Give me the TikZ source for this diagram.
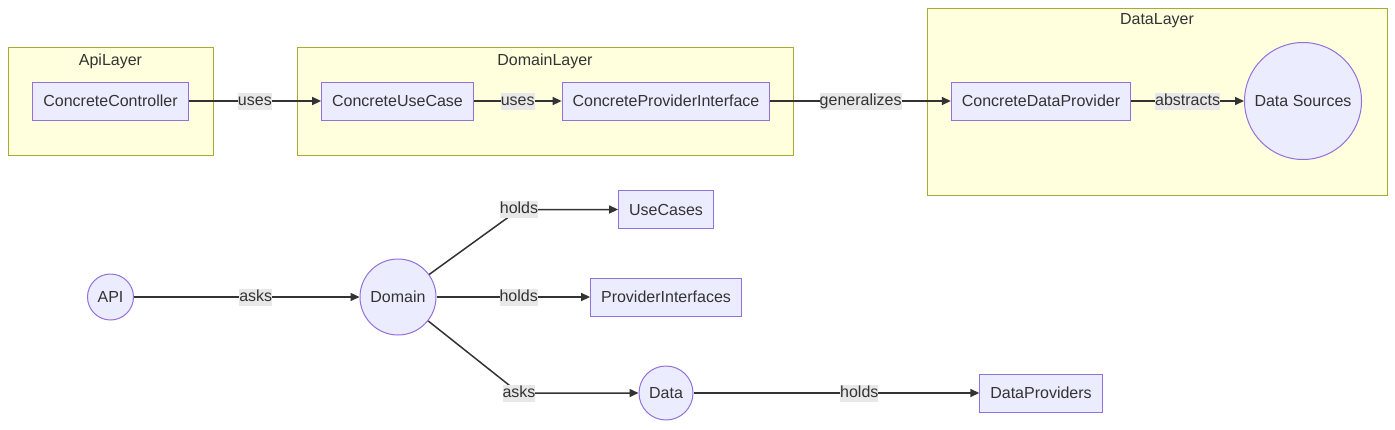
\documentclass[tikz,border=0pt]{standalone}
\usepackage{fontspec}
\setmainfont{Liberation Sans}
\usetikzlibrary{arrows.meta}
\definecolor{nodefill}{HTML}{ECECFF}
\definecolor{nodeline}{HTML}{9370DB}
\definecolor{layerfill}{HTML}{FFFFDE}
\definecolor{layerline}{HTML}{AAAA33}
\definecolor{inkgray}{HTML}{333333}
\definecolor{labelfill}{HTML}{E8E8E8}
\tikzset{
  every node/.style={font=\fontsize{16}{19}\selectfont, text=inkgray},
  layer/.style={draw=layerline, fill=layerfill, line width=1pt, inner sep=0pt},
  box/.style={draw=nodeline, fill=nodefill, line width=1pt, inner xsep=10.5pt, minimum height=38pt},
  round/.style={circle, draw=nodeline, fill=nodefill, line width=1pt, inner sep=0pt},
  edge/.style={draw=inkgray, line width=1.5pt, -{Triangle[length=9pt,width=8pt]}},
  lbl/.style={fill=labelfill, inner xsep=0pt, inner ysep=0.5pt, text height=12pt, text depth=4pt}
}
\begin{document}
\begin{tikzpicture}[x=1pt,y=-1pt]
    \useasboundingbox (0,0) rectangle (1395,429);
    % layers
    \node[layer, minimum width=205pt, minimum height=108pt] (apilayer) at (110.5,101) {};
    \node[layer, minimum width=496pt, minimum height=108pt] (domainlayer) at (545,101) {};
    \node[layer, minimum width=460pt, minimum height=187pt] (datalayer) at (1157,101.5) {};
    \node (apititle) at (110.5,61) {ApiLayer};
    \node (domaintitle) at (545,61) {DomainLayer};
    \node (datatitle) at (1157,21) {DataLayer};
    % top row
    \node[box] (controller) at (110.5,101) {ConcreteController};
    \node[box] (usecase) at (397.5,101) {ConcreteUseCase};
    \node[box] (providerif) at (666,101) {ConcreteProviderInterface};
    \node[box] (dataprovider) at (1041,101) {ConcreteDataProvider};
    \node[round, minimum size=117pt] (sources) at (1303,101) {Data Sources};
    \draw[edge] (controller) -- node[lbl] {uses} (usecase);
    \draw[edge] (usecase) -- node[lbl] {uses} (providerif);
    \draw[edge] (providerif) -- node[lbl] {generalizes} (dataprovider);
    \draw[edge] (dataprovider) -- node[lbl] {abstracts} (sources);
    % bottom row
    \node[round, minimum size=46pt] (api) at (110.5,297) {API};
    \node[round, minimum size=76pt] (domain) at (398,297) {Domain};
    \node[box] (usecases) at (666,209.5) {UseCases};
    \node[box] (providerifs) at (666,297) {ProviderInterfaces};
    \node[round, minimum size=54pt] (data) at (666,393) {Data};
    \node[box] (dataproviders) at (1041,393) {DataProviders};
    \coordinate (bendup) at (519,209.5);
    \coordinate (benddown) at (519,393);
    \draw[edge] (api) -- node[lbl, pos=0.54] {asks} (domain);
    \draw[edge] (domain) -- (bendup) node[lbl] {holds} -- (usecases);
    \draw[edge] (domain) -- node[lbl, pos=0.535] {holds} (providerifs);
    \draw[edge] (domain) -- (benddown) node[lbl] {asks} -- (data);
    \draw[edge] (data) -- node[lbl, pos=0.58] {holds} (dataproviders);
\end{tikzpicture}
\end{document}
